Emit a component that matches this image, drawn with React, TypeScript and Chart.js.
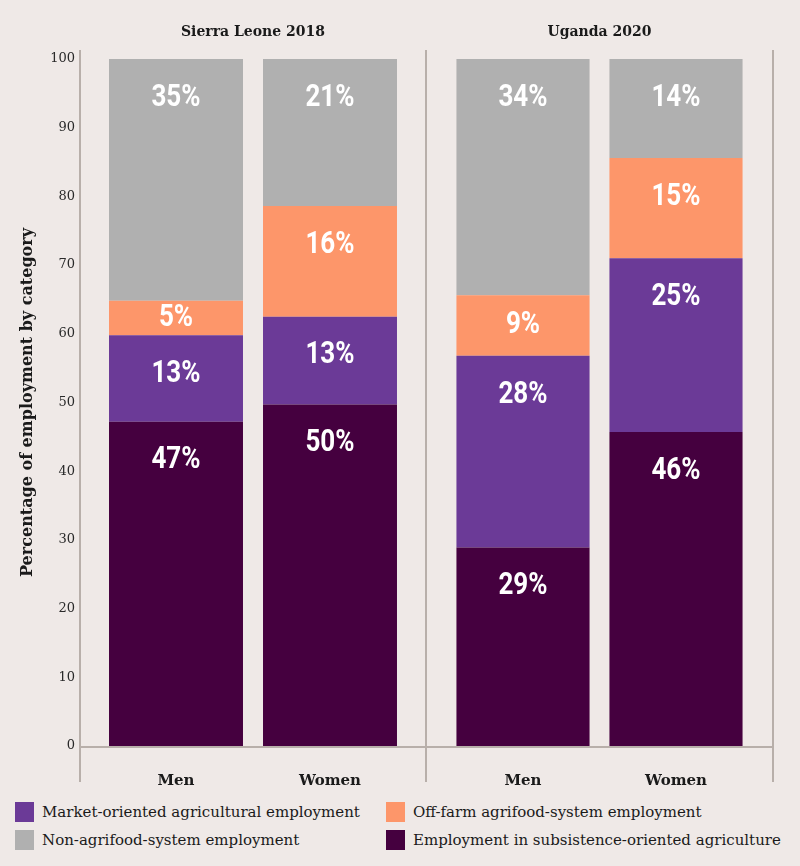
import React, { useEffect, useRef } from 'react';
import { Chart, registerables } from 'chart.js';

Chart.register(...registerables);

// ---- data ----
const categories = ['Men', 'Women'];
const seriesNames = [
  'Employment in subsistence-oriented agriculture',
  'Market-oriented agricultural employment',
  'Off-farm agrifood-system employment',
  'Non-agrifood-system employment',
];
const seriesColors = ['#45003f', '#6b3a97', '#fd966a', '#b0b0b0'];
const legendOrder = [1, 2, 3, 0];

const slSubsistence = [47.2, 49.7];
const slMarket = [12.6, 12.8];
const slOffFarm = [5.0, 16.1];
const slNonAgri = [35.2, 21.4];

const ugSubsistence = [28.9, 45.7];
const ugMarket = [27.9, 25.3];
const ugOffFarm = [8.8, 14.6];
const ugNonAgri = [34.4, 14.4];

const yTitle = 'Percentage of employment by category';
const slTitle = 'Sierra Leone 2018';
const ugTitle = 'Uganda 2020';

const BG = '#efe9e7';
const LINE = '#b8afaa';
const SERIF = '"DejaVu Serif", "Liberation Serif", serif';
const COND = 'Roboto, "Open Sans", sans-serif';

const labelPlugin = {
  id: 'barLabels',
  afterDatasetsDraw(chart: any) {
    const ctx = chart.ctx;
    chart.data.datasets.forEach((ds: any, di: number) => {
      const meta = chart.getDatasetMeta(di);
      meta.data.forEach((el: any, i: number) => {
        const top = Math.min(el.y, el.base);
        const bottom = Math.max(el.y, el.base);
        const y = Math.min(top + 39, (top + bottom) / 2);
        ctx.save();
        ctx.fillStyle = '#ffffff';
        ctx.font = `bold 31px ${COND}`;
        ctx.textAlign = 'center';
        ctx.textBaseline = 'middle';
        ctx.translate(el.x, y);
        ctx.scale(0.84, 1);
        ctx.fillText(Math.round(ds.data[i]) + '%', 0, 0);
        ctx.restore();
      });
    });
  },
};

function panelPlugin(title: string, isLeft: boolean) {
  return {
    id: 'panel',
    afterDraw(chart: any) {
      const ctx = chart.ctx;
      const ca = chart.chartArea;
      const pad = isLeft ? 19 : 20.5;
      const lx = ca.left - pad;
      const rx = ca.right + pad;
      const y0 = chart.scales.y.getPixelForValue(0) + 1;
      ctx.save();
      ctx.strokeStyle = LINE;
      ctx.lineWidth = 2;
      ctx.beginPath();
      ctx.moveTo(lx, y0);
      ctx.lineTo(rx, y0);
      ctx.moveTo(lx, ca.top - 9);
      ctx.lineTo(lx, ca.bottom + 36);
      if (!isLeft) {
        ctx.moveTo(rx, ca.top - 9);
        ctx.lineTo(rx, ca.bottom + 36);
      }
      ctx.stroke();
      ctx.fillStyle = '#1a1a1a';
      ctx.font = `bold 14px ${SERIF}`;
      ctx.textAlign = 'center';
      ctx.textBaseline = 'middle';
      ctx.fillText(title, (lx + rx) / 2, 32);
      ctx.restore();
    },
  };
}

function makeConfig(title: string, values: number[][], isLeft: boolean): any {
  return {
    type: 'bar',
    data: {
      labels: categories,
      datasets: values.map((v, i) => ({
        label: seriesNames[i],
        data: v,
        backgroundColor: seriesColors[i],
        borderWidth: 0,
        categoryPercentage: 1,
        barPercentage: 0.87,
      })),
    },
    options: {
      responsive: false,
      animation: false,
      layout: {
        padding: isLeft
          ? { left: 0, right: 19, top: 59, bottom: 0 }
          : { left: 26.5, right: 47.5, top: 59, bottom: 0 },
      },
      plugins: {
        legend: { display: false },
        tooltip: { enabled: false },
        title: { display: false },
      },
      scales: {
        x: {
          stacked: true,
          grid: { display: false },
          border: { display: false },
          ticks: {
            padding: 18,
            color: '#1a1a1a',
            font: { family: SERIF, size: 15, weight: 'bold' },
          },
          afterFit(scale: any) {
            scale.height = 54;
          },
        },
        y: {
          display: isLeft,
          stacked: true,
          min: 0,
          max: 100,
          grid: { display: false, drawTicks: false },
          border: { display: false },
          ticks: {
            stepSize: 10,
            padding: 24,
            color: '#2a2a2a',
            font: { family: SERIF, size: 13 },
          },
          title: {
            display: true,
            text: yTitle,
            color: '#1a1a1a',
            padding: { top: 18, bottom: 0 },
            font: { family: SERIF, size: 16, weight: 'bold' },
          },
          afterFit(scale: any) {
            if (isLeft) scale.width = 99;
          },
        },
      },
    },
    plugins: [labelPlugin, panelPlugin(title, isLeft)],
  };
}

export default function App() {
  const leftRef = useRef<HTMLCanvasElement>(null);
  const rightRef = useRef<HTMLCanvasElement>(null);

  useEffect(() => {
    document.body.style.margin = '0';
    document.body.style.background = BG;
    const c1 = new Chart(
      leftRef.current as HTMLCanvasElement,
      makeConfig(slTitle, [slSubsistence, slMarket, slOffFarm, slNonAgri], true)
    );
    const c2 = new Chart(
      rightRef.current as HTMLCanvasElement,
      makeConfig(ugTitle, [ugSubsistence, ugMarket, ugOffFarm, ugNonAgri], false)
    );
    return () => {
      c1.destroy();
      c2.destroy();
    };
  }, []);

  const legendPos = [
    { left: 15, top: 802 },
    { left: 386, top: 802 },
    { left: 15, top: 830 },
    { left: 386, top: 830 },
  ];

  return (
    <div style={{ position: 'absolute', left: 0, top: 0, width: 800, height: 866, background: BG, overflow: 'hidden' }}>
      <canvas ref={leftRef} width={426} height={800} style={{ position: 'absolute', left: 0, top: 0 }} />
      <canvas ref={rightRef} width={380} height={800} style={{ position: 'absolute', left: 420, top: 0 }} />
      {legendOrder.map((si, k) => (
        <div
          key={si}
          style={{
            position: 'absolute',
            left: legendPos[k].left,
            top: legendPos[k].top,
            height: 20,
            display: 'flex',
            alignItems: 'center',
            whiteSpace: 'nowrap',
            fontFamily: SERIF,
            fontSize: 15,
            color: '#1a1a1a',
          }}
        >
          <span style={{ display: 'inline-block', width: 19, height: 20, background: seriesColors[si], marginRight: 8 }} />
          <span>{seriesNames[si]}</span>
        </div>
      ))}
    </div>
  );
}
